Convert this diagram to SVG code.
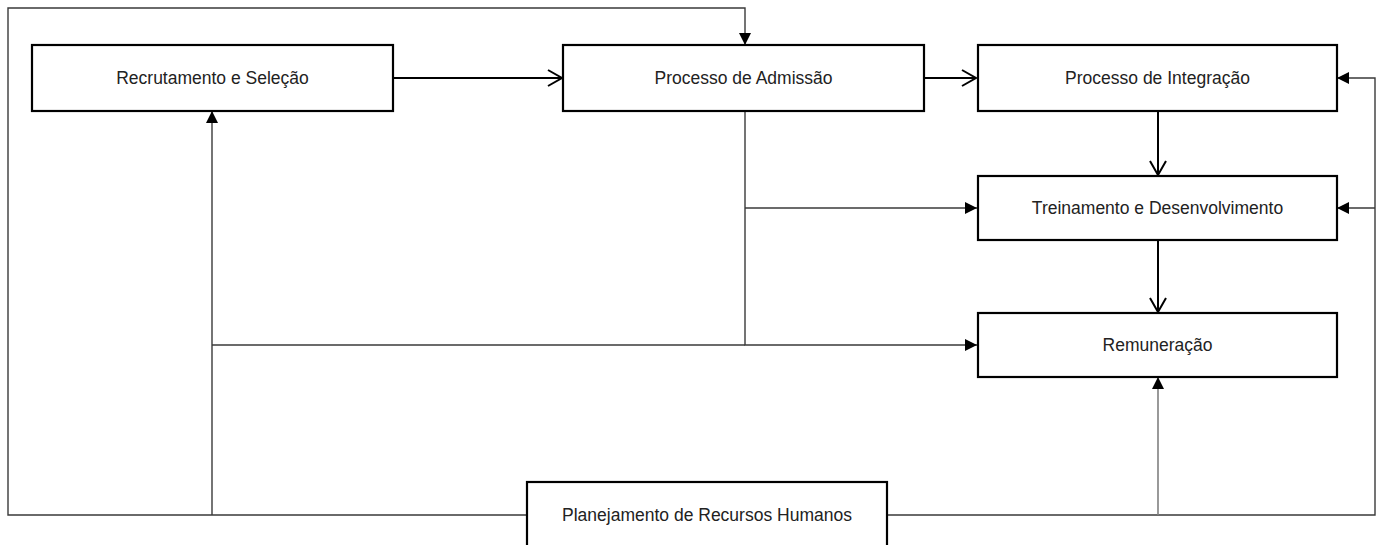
<svg xmlns="http://www.w3.org/2000/svg" width="1379" height="545" viewBox="0 0 1379 545">
  <style>
    .box { fill: #ffffff; stroke: #000000; stroke-width: 2.2; }
    .label { font-family: "Liberation Sans", Arial, sans-serif; font-size: 17.5px; fill: #222222; text-anchor: middle; }
    .main { fill: none; stroke: #000000; stroke-width: 2; }
    .thin { fill: none; stroke: #3a3a3a; stroke-width: 1.4; }
    .grey { fill: none; stroke: #808080; stroke-width: 1.6; }
  </style>
  <defs>
    <marker id="open" markerUnits="userSpaceOnUse" markerWidth="18" markerHeight="20" refX="15" refY="9" orient="auto">
      <path d="M1,1 L15,9 L1,17" fill="none" stroke="#000000" stroke-width="2"/>
    </marker>
    <marker id="tri" markerUnits="userSpaceOnUse" markerWidth="13" markerHeight="13" refX="12" refY="6" orient="auto">
      <path d="M0,0 L12,6 L0,12 z" fill="#000000"/>
    </marker>
  </defs>

  <rect width="1379" height="545" fill="#ffffff"/>

  <!-- connectors -->
  <g id="connectors">
    <!-- main flow -->
    <path class="main" d="M393,78 H562" marker-end="url(#open)"/>
    <path class="main" d="M924,78 H976" marker-end="url(#open)"/>
    <path class="main" d="M1158,111 V175" marker-end="url(#open)"/>
    <path class="main" d="M1158,240 V312" marker-end="url(#open)"/>

    <!-- admission branches -->
    <path class="thin" d="M745,111 V345 H977" marker-end="url(#tri)"/>
    <path class="thin" d="M745,208 H977" marker-end="url(#tri)"/>

    <!-- planning feedback lines -->
    <path class="thin" d="M212,345 H745"/>
    <path class="thin" d="M212,515 V111" marker-end="url(#tri)"/>
    <path class="thin" d="M527,515 H8 V8 H745 V45" marker-end="url(#tri)"/>
    <path class="thin" d="M887,515 H1375 V78 H1337" marker-end="url(#tri)"/>
    <path class="thin" d="M1375,208 H1337" marker-end="url(#tri)"/>
    <path class="grey" d="M1158,515 V377" marker-end="url(#tri)"/>
  </g>

  <g id="recrutamento">
    <rect class="box" x="32" y="45" width="361" height="66"/>
    <text class="label" x="212.5" y="84">Recrutamento e Seleção</text>
  </g>
  <g id="admissao">
    <rect class="box" x="563" y="45" width="361" height="66"/>
    <text class="label" x="743.5" y="84">Processo de Admissão</text>
  </g>
  <g id="integracao">
    <rect class="box" x="978" y="45" width="359" height="66"/>
    <text class="label" x="1157.5" y="84">Processo de Integração</text>
  </g>
  <g id="treinamento">
    <rect class="box" x="978" y="176" width="359" height="64"/>
    <text class="label" x="1157.5" y="214">Treinamento e Desenvolvimento</text>
  </g>
  <g id="remuneracao">
    <rect class="box" x="978" y="313" width="359" height="64"/>
    <text class="label" x="1157.5" y="351">Remuneração</text>
  </g>
  <g id="planejamento">
    <rect class="box" x="527" y="482" width="360" height="66"/>
    <text class="label" x="707" y="521">Planejamento de Recursos Humanos</text>
  </g>
</svg>
